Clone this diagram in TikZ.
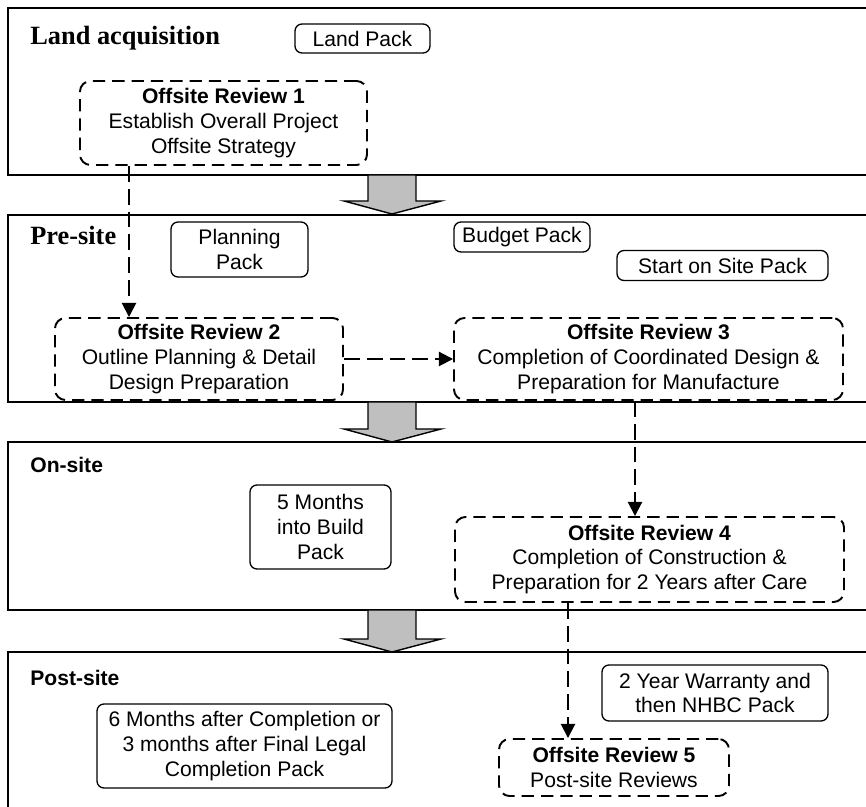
\documentclass[tikz,border=0pt]{standalone}
\usepackage{fontspec}
\setmainfont{Liberation Sans}
\newfontfamily\serifhead{Liberation Serif}
\usetikzlibrary{arrows.meta}

\begin{document}
\begin{tikzpicture}[x=0.02cm, y=-0.02cm,
    font=\fontsize{12}{14}\selectfont,
    sz/.style 2 args={minimum width=#1*0.02cm, minimum height=#2*0.02cm},
    stage/.style={line width=1pt},
    pack/.style={draw, line width=0.75pt, rounded corners=4pt, align=center, inner sep=0pt},
    review/.style={draw, line width=1.1pt, dash pattern=on 7pt off 4pt, rounded corners=6pt, align=center, inner sep=0pt},
    flow/.style={line width=1.1pt, dash pattern=on 9pt off 4pt, -{Triangle[length=8pt, width=8pt]}},
    bigarrow/.style={draw, line width=0.8pt, fill=gray!50},
    headserif/.style={anchor=base west, inner sep=0pt, font=\fontsize{15}{18}\serifhead\bfseries},
    headsans/.style={anchor=base west, inner sep=0pt, font=\fontsize{12}{14}\selectfont\bfseries}]
    \useasboundingbox (0,0) rectangle (866,807);
    % stages
    \draw[stage] (866,8) -- (8,8) -- (8,175) -- (866,175);
    \draw[stage] (866,215) -- (8,215) -- (8,402) -- (866,402);
    \draw[stage] (866,442) -- (8,442) -- (8,610) -- (866,610);
    \draw[stage] (866,652) -- (8,652) -- (8,810);
    \foreach \ya/\yb in {175/214, 402/442, 610/652}
        \draw[bigarrow] (368,\ya) -- (368,{\yb-13}) -- (344,{\yb-13}) -- (392,\yb) -- (441,{\yb-13}) -- (416,{\yb-13}) -- (416,\ya) -- cycle;
    \node[headserif] (hland) at (30,45) {Land acquisition};
    \node[headserif] (hpre) at (30,245) {Pre-site};
    \node[headsans] (hon) at (30,473) {On-site};
    \node[headsans] (hpost) at (30,685) {Post-site};
    % packs
    \node[pack, sz={135}{29}] (land) at (362.5,38.5) {Land Pack};
    \node[pack, sz={137}{55}] (plan) at (239.5,249.5) {Planning\\Pack};
    \node[pack, sz={136}{30}] (budget) at (522,237) {Budget Pack};
    \node[pack, sz={211}{30}] (start) at (722.5,265.5) {Start on Site Pack};
    \node[pack, sz={141}{84}] (months5) at (320.5,527) {5 Months\\into Build\\Pack};
    \node[pack, sz={226}{56}] (warranty) at (715,693) {2 Year Warranty and\\then NHBC Pack};
    \node[pack, sz={295}{84}] (months6) at (244.5,746) {6 Months after Completion or\\3 months after Final Legal\\Completion Pack};
    % reviews
    \node[review, sz={287}{84}] (or1) at (223.5,123) {\textbf{Offsite Review 1}\\Establish Overall Project\\Offsite Strategy};
    \node[review, sz={288}{82}] (or2) at (199,359) {\textbf{Offsite Review 2}\\Outline Planning \& Detail\\Design Preparation};
    \node[review, sz={389}{82}] (or3) at (648.5,359) {\textbf{Offsite Review 3}\\Completion of Coordinated Design \&\\Preparation for Manufacture};
    \node[review, sz={389}{85}] (or4) at (649.5,559.5) {\textbf{Offsite Review 4}\\Completion of Construction \&\\Preparation for 2 Years after Care};
    \node[review, sz={230}{57}] (or5) at (614,767.5) {\textbf{Offsite Review 5}\\Post-site Reviews};
    \coordinate (tap1) at (129,0);
    \coordinate (tap3) at (635,0);
    \coordinate (tap4) at (568,0);
    \draw[flow] (or1.south -| tap1) -- (or2.north -| tap1);
    \draw[flow] (or2.east) -- (or3.west);
    \draw[flow] (or3.south -| tap3) -- (or4.north -| tap3);
    \draw[flow] (or4.south -| tap4) -- (or5.north -| tap4);
\end{tikzpicture}
\end{document}
